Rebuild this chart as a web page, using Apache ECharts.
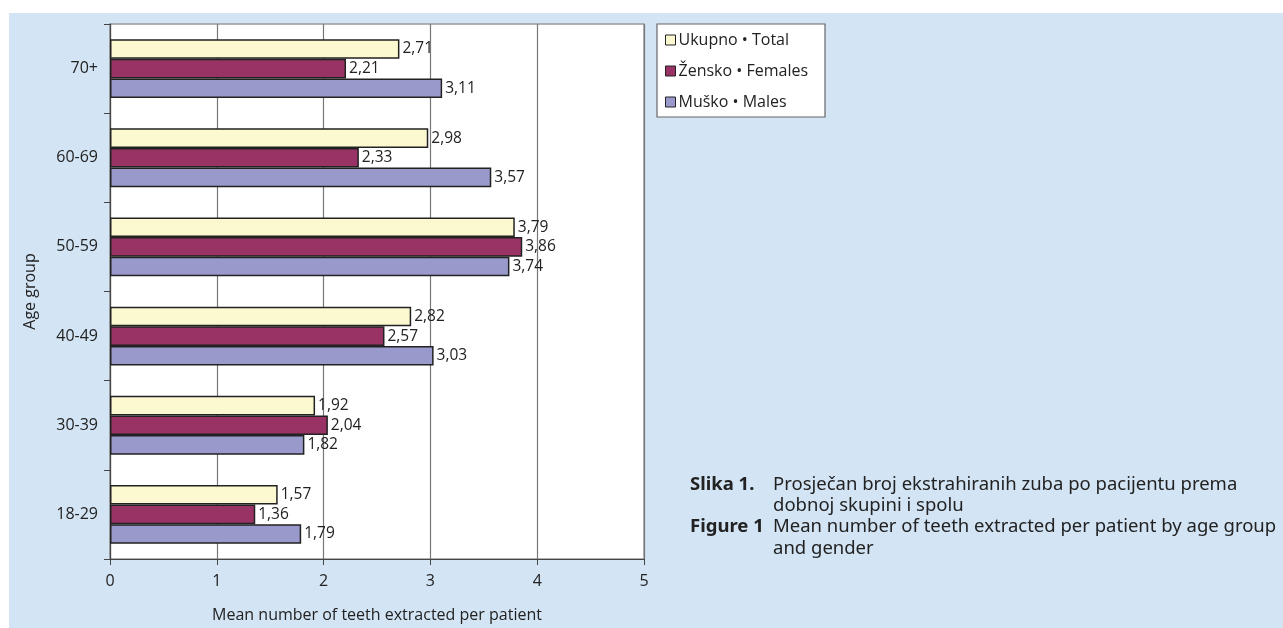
<!DOCTYPE html>
<html>
<head>
<meta charset="utf-8">
<script src="https://cdn.jsdelivr.net/npm/echarts@6/dist/echarts.min.js"></script>
<style>
html,body{margin:0;padding:0;background:#fff;}
#c{width:1283px;height:628px;}
</style>
</head>
<body>
<div id="c"></div>
<script>
const categories = ['70+', '60-69', '50-59', '40-49', '30-39', '18-29'];
const totalValues = [2.71, 2.98, 3.79, 2.82, 1.92, 1.57];
const femaleValues = [2.21, 2.33, 3.86, 2.57, 2.04, 1.36];
const maleValues = [3.11, 3.57, 3.74, 3.03, 1.82, 1.79];
const seriesNames = ['Ukupno • Total', 'Žensko • Females', 'Muško • Males'];
const xTicks = { min: 0, max: 5, interval: 1 };
const xAxisName = 'Mean number of teeth extracted per patient';
const yAxisName = 'Age group';
const captionLines = [
  ['Slika 1.', 'Prosječan broj ekstrahiranih zuba po pacijentu prema'],
  ['', 'dobnoj skupini i spolu'],
  ['Figure 1', 'Mean number of teeth extracted per patient by age group'],
  ['', 'and gender']
];

const chart = echarts.init(document.getElementById('c'));
const labelFont = '"Open Sans", sans-serif';
const fmt = p => p.value.toFixed(2).replace('.', ',');
function mkSeries(name, data, color) {
  return {
    name: name, type: 'bar', data: data,
    barGap: '0%', barCategoryGap: '34%',
    itemStyle: { color: color, borderColor: '#222', borderWidth: 1.5 },
    label: { show: true, position: 'right', distance: 3, formatter: fmt,
      color: '#222', fontSize: 15.5, fontFamily: labelFont },
    emphasis: { disabled: true }
  };
}
const captionGraphics = [];
captionLines.forEach((ln, i) => {
  const y = 487 + i * 21.3;
  if (ln[0]) captionGraphics.push({ type: 'text', left: 690, top: y - 12,
    style: { text: ln[0], font: 'bold 18.5px "Noto Sans", sans-serif', fill: '#222' } });
  captionGraphics.push({ type: 'text', left: 773, top: y - 12,
    style: { text: ln[1], font: '18.5px "Noto Sans", sans-serif', fill: '#222' } });
});

chart.setOption({
  backgroundColor: '#fff',
  animation: false,
  graphic: [
    { type: 'rect', z: -10, shape: { x: 9, y: 13, width: 1283, height: 628 },
      style: { fill: '#d3e4f4' }, silent: true },
    { type: 'rect', z: -5, shape: { x: 657, y: 24, width: 168, height: 93 },
      style: { fill: '#fff', stroke: '#666', lineWidth: 1.2 }, silent: true }
  ].concat(captionGraphics),
  grid: { left: 110, top: 24, width: 534, height: 538, show: true,
    backgroundColor: '#fff', borderColor: '#999', borderWidth: 1.5 },
  legend: {
    data: seriesNames, orient: 'vertical', left: 665, top: 31,
    padding: 0, itemWidth: 10, itemHeight: 10, itemGap: 13,
    icon: 'rect',
    itemStyle: { borderColor: '#222', borderWidth: 1 },
    textStyle: { fontSize: 16, color: '#222', lineHeight: 18,
      fontFamily: labelFont, padding: [0, 0, 0, -2] },
    selectedMode: false
  },
  xAxis: {
    type: 'value', min: xTicks.min, max: xTicks.max, interval: xTicks.interval,
    name: xAxisName, nameLocation: 'middle', nameGap: 48,
    nameTextStyle: { fontSize: 16, color: '#222', fontFamily: labelFont },
    axisLine: { show: true, lineStyle: { color: '#444', width: 1.2 } },
    axisTick: { show: true, length: 6, lineStyle: { color: '#444' } },
    axisLabel: { fontSize: 16, color: '#222', margin: 14, fontFamily: labelFont },
    splitLine: { show: true, lineStyle: { color: '#777', width: 1.2 } }
  },
  yAxis: {
    type: 'category', data: categories, inverse: true,
    name: yAxisName, nameLocation: 'middle', nameGap: 72, nameRotate: 90,
    nameTextStyle: { fontSize: 16, color: '#222', fontFamily: labelFont },
    axisLine: { show: true, lineStyle: { color: '#444', width: 1.2 } },
    axisTick: { show: true, length: 6, lineStyle: { color: '#444' } },
    axisLabel: { fontSize: 16, color: '#222', margin: 12, fontFamily: labelFont },
    splitLine: { show: false }
  },
  series: [
    mkSeries(seriesNames[0], totalValues, '#fcf9d0'),
    mkSeries(seriesNames[1], femaleValues, '#993366'),
    mkSeries(seriesNames[2], maleValues, '#9999cc')
  ]
});
</script>
</body>
</html>
